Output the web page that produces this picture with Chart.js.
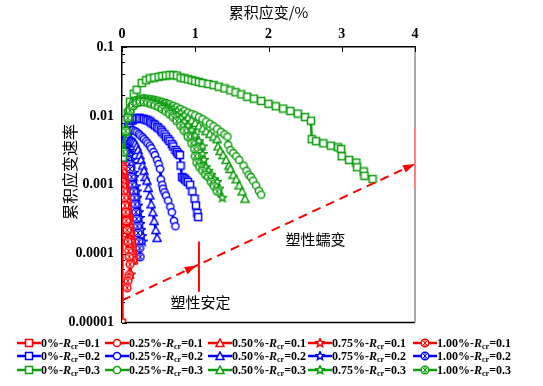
<!DOCTYPE html>
<html>
<head>
<meta charset="utf-8">
<script src="https://cdn.jsdelivr.net/npm/chart.js@4/dist/chart.umd.min.js"></script>
<style>
  body { margin: 0; background: #fff; }
  #wrap { position: relative; width: 543px; height: 339px; }
  #legend { position: absolute; left: 0; top: 0; width: 543px; height: 386px; pointer-events: none;
            font-family: "Liberation Serif", serif; font-weight: bold; font-size: 12px; color: #000; }
  .item { position: absolute; display: flex; align-items: center; white-space: nowrap; height: 13px; }
  .item canvas { display: block; }
  .item sub { font-size: 8px; vertical-align: -2px; }
</style>
</head>
<body>
<div id="wrap"><canvas id="rateChart"></canvas></div>
<div id="legend"></div>
<script>
// 累积应变 (%) / 累积应变速率 —— 读图所得
const strainTicks = [0, 1, 2, 3, 4];
const rateLabels = ['0.00001', '0.0001', '0.001', '0.01', '0.1'];
const preStrain = ['0%', '0.25%', '0.50%', '0.75%', '1.00%'];
const ratios = ['0.1', '0.2', '0.3'];

// R = 0.3 (绿)
const g0x = [0.01,0.04,0.08,0.11,0.16,0.2,0.27,0.33,0.38,0.44,0.5,0.55,0.6,0.65,0.7,0.75,0.8,0.85,0.9,0.95,1.0,1.05,1.1,1.18,1.25,1.32,1.4,1.48,1.55,1.63,1.71,1.8,1.9,2.0,2.1,2.2,2.3,2.4,2.5,2.58,2.59,2.65,2.75,2.85,2.95,2.99,3.0,3.1,3.2,3.21,3.3,3.31,3.42];
const g0y = [0.0025,0.006,0.011,0.016,0.021,0.024,0.030,0.033,0.035,0.036,0.037,0.038,0.0385,0.039,0.039,0.0385,0.036,0.035,0.034,0.033,0.032,0.031,0.030,0.029,0.028,0.0265,0.025,0.0235,0.022,0.0205,0.019,0.0178,0.0165,0.015,0.0138,0.0128,0.0118,0.0108,0.0096,0.0085,0.0046,0.0043,0.0040,0.0037,0.0035,0.0033,0.0026,0.0023,0.0021,0.0018,0.00156,0.00135,0.00121];
const g1x = [0.02,0.05,0.08,0.11,0.15,0.2,0.25,0.3,0.35,0.4,0.45,0.5,0.55,0.6,0.65,0.7,0.75,0.8,0.85,0.9,0.95,1.0,1.05,1.1,1.15,1.2,1.25,1.3,1.35,1.4,1.44,1.45,1.48,1.52,1.56,1.6,1.66,1.7,1.73,1.76,1.79,1.83,1.87,1.9];
const g1y = [0.003,0.006,0.010,0.013,0.0155,0.017,0.0178,0.018,0.0178,0.0175,0.0171,0.0166,0.016,0.0154,0.0147,0.014,0.0133,0.0126,0.0119,0.0112,0.0107,0.0102,0.0096,0.009,0.0083,0.0077,0.0071,0.0065,0.0059,0.0054,0.0050,0.0038,0.0032,0.0029,0.0026,0.0023,0.0019,0.0016,0.0014,0.0013,0.00115,0.00098,0.00082,0.00072];
const g2x = [0.02,0.05,0.08,0.11,0.15,0.2,0.25,0.3,0.35,0.4,0.45,0.5,0.55,0.6,0.65,0.7,0.75,0.8,0.85,0.9,0.95,1.0,1.05,1.1,1.15,1.2,1.25,1.3,1.31,1.34,1.38,1.42,1.46,1.48,1.52,1.56,1.6,1.64,1.68];
const g2y = [0.003,0.006,0.0098,0.0127,0.015,0.0165,0.0172,0.0173,0.0171,0.0167,0.0162,0.0156,0.0149,0.0142,0.0134,0.0126,0.0118,0.011,0.0102,0.0094,0.0086,0.0079,0.0072,0.0066,0.006,0.0055,0.005,0.0046,0.0036,0.0031,0.0027,0.0023,0.0019,0.0017,0.0014,0.0012,0.00098,0.0008,0.00063];
const g3x = [0.02,0.05,0.08,0.11,0.15,0.2,0.25,0.3,0.35,0.4,0.45,0.5,0.55,0.6,0.65,0.7,0.75,0.8,0.85,0.9,0.95,1.0,1.05,1.1,1.1,1.12,1.14,1.18,1.22,1.26,1.3,1.33,1.37];
const g3y = [0.003,0.006,0.0096,0.0124,0.0145,0.016,0.0166,0.0167,0.0164,0.0159,0.0153,0.0146,0.0138,0.0129,0.012,0.011,0.0101,0.0092,0.0082,0.0072,0.0062,0.0052,0.0043,0.0036,0.0028,0.0023,0.0018,0.0016,0.0014,0.0012,0.0011,0.00088,0.00065];
const g4x = [0.02,0.05,0.08,0.11,0.15,0.2,0.25,0.3,0.35,0.4,0.45,0.5,0.55,0.6,0.65,0.7,0.75,0.8,0.85,0.9,0.95,0.99,1.0,1.02,1.06,1.1,1.14,1.18,1.22,1.26,1.3];
const g4y = [0.003,0.006,0.0094,0.012,0.014,0.0154,0.016,0.016,0.0156,0.015,0.0143,0.0135,0.0126,0.0116,0.0106,0.0095,0.0084,0.0072,0.0061,0.005,0.004,0.0033,0.0026,0.0021,0.0018,0.0016,0.0014,0.0013,0.0011,0.00095,0.0008];

// R = 0.2 (蓝)
const b0x = [0.01,0.03,0.05,0.08,0.1,0.13,0.15,0.18,0.2,0.23,0.25,0.28,0.3,0.33,0.35,0.38,0.4,0.43,0.45,0.48,0.5,0.53,0.55,0.58,0.6,0.63,0.65,0.68,0.7,0.73,0.75,0.77,0.79,0.8,0.82,0.84,0.86,0.88,0.9,0.93,0.96,0.99,1.01,1.03,1.04];
const b0y = [0.0025,0.004,0.0055,0.0068,0.0078,0.0085,0.0088,0.0091,0.0092,0.0093,0.0092,0.0091,0.009,0.0088,0.0086,0.0083,0.008,0.0076,0.0073,0.0069,0.0066,0.0062,0.0058,0.0054,0.005,0.0046,0.0043,0.0039,0.0036,0.0032,0.003,0.0028,0.0027,0.0019,0.0013,0.00125,0.0012,0.00115,0.0011,0.001,0.0008,0.00063,0.0005,0.00039,0.00034];
const b1x = [0.01,0.03,0.05,0.06,0.08,0.1,0.13,0.15,0.18,0.2,0.23,0.25,0.28,0.3,0.33,0.35,0.38,0.4,0.43,0.45,0.48,0.5,0.52,0.53,0.55,0.56,0.58,0.6,0.63,0.66,0.68,0.71,0.73];
const b1y = [0.002,0.0033,0.0043,0.0048,0.0055,0.006,0.0062,0.0062,0.006,0.0058,0.0055,0.0052,0.0049,0.0046,0.0043,0.004,0.0037,0.0034,0.003,0.0027,0.0023,0.002,0.0017,0.0012,0.001,0.00088,0.00078,0.0007,0.00059,0.00048,0.0004,0.0003,0.00025];
const b2x = [0.01,0.02,0.03,0.05,0.06,0.08,0.1,0.12,0.14,0.16,0.18,0.2,0.22,0.24,0.26,0.28,0.3,0.32,0.34,0.36,0.38,0.4,0.42,0.44,0.46,0.48];
const b2y = [0.0018,0.0023,0.0028,0.0035,0.0038,0.0041,0.0043,0.0044,0.0043,0.0042,0.004,0.0036,0.0032,0.0027,0.0023,0.0019,0.0016,0.0013,0.00115,0.0009,0.0007,0.00052,0.0004,0.0003,0.00022,0.00017];
const b3x = [0.01,0.02,0.03,0.05,0.07,0.08,0.1,0.11,0.13,0.14,0.16,0.17,0.19,0.2,0.21,0.22,0.23,0.24,0.25,0.26,0.27,0.28];
const b3y = [0.0016,0.002,0.0025,0.003,0.0031,0.0031,0.0029,0.0027,0.0023,0.002,0.0015,0.0013,0.00095,0.0008,0.00065,0.0005,0.0004,0.00033,0.00027,0.00022,0.00018,0.00015];
const b4x = [0.01,0.02,0.03,0.04,0.05,0.07,0.08,0.1,0.11,0.13,0.14,0.16,0.17,0.18,0.19,0.2,0.21,0.22,0.23,0.24,0.25];
const b4y = [0.0014,0.0018,0.0021,0.0023,0.0025,0.0025,0.0023,0.002,0.0017,0.0013,0.001,0.0008,0.00065,0.00052,0.0004,0.00032,0.00025,0.0002,0.00015,0.00012,0.00009];

// R = 0.1 (红)
const r0x = [0,0.003,0.008,0.015,0.022,0.03,0.04,0.05,0.06,0.07,0.08,0.09,0.1,0.11,0.12,0.13,0.14,0.15,0.16];
const r0y = [0.00001,0.0019,0.0018,0.0017,0.0014,0.0012,0.001,0.0008,0.00065,0.0005,0.0004,0.00033,0.00027,0.00022,0.00018,0.00015,0.00012,0.0001,0.00008];
const r1x = [0.005,0.012,0.02,0.03,0.04,0.05,0.06,0.07,0.08,0.09,0.1,0.11,0.12,0.13,0.14,0.15];
const r1y = [0.0016,0.0015,0.0013,0.0011,0.0009,0.00074,0.0006,0.00049,0.0004,0.00032,0.00025,0.0002,0.00016,0.00013,0.0001,0.00008];
const r2x = [0.005,0.012,0.02,0.03,0.04,0.05,0.06,0.07,0.08,0.09,0.1,0.11,0.12,0.13];
const r2y = [0.0014,0.0013,0.0011,0.0009,0.0007,0.00056,0.00045,0.00037,0.0003,0.00023,0.00018,0.00014,0.00011,0.00008];
const r3x = [0.005,0.012,0.02,0.03,0.04,0.05,0.06,0.07,0.08,0.09,0.1,0.11,0.12];
const r3y = [0.0012,0.0011,0.0009,0.00075,0.0006,0.00048,0.00038,0.0003,0.00023,0.00017,0.00013,0.00008,0.00005];
const r4x = [0.005,0.012,0.02,0.03,0.04,0.05,0.06,0.07,0.08,0.09,0.1,0.11,0.1,0.09,0.08,0.07];
const r4y = [0.0011,0.00095,0.0008,0.00065,0.0005,0.0004,0.0003,0.00022,0.00015,0.00011,0.00009,0.00007,0.00005,0.000045,0.00004,0.000032];

// 辅助线
const trendX = [0, 3.95];
const trendY = [0.000021, 0.0019];
const arrowAt = [0.97, 3.95];
const limitX = [1.05, 1.05];
const limitY = [0.00015, 0.000028];
const edgeX = [4, 4];
const edgeY = [0.0066, 0.00087];
const notes = [
  { text: '塑性安定', x: 1.07, y: 0.00002 },
  { text: '塑性蠕变', x: 2.64, y: 0.00016 }
];

const colors = ['#ff0000', '#0000ff', '#0c9e0c'];
const shapes = ['square', 'circle', 'triangle', 'star', 'crossed'];

function marker(shape, color) {
  const s = 10, m = 5;
  const c = document.createElement('canvas');
  c.width = s; c.height = s;
  const g = c.getContext('2d');
  g.fillStyle = '#fff';
  g.strokeStyle = color;
  g.lineWidth = 1.5;
  g.beginPath();
  if (shape === 'square') g.rect(1.5, 1.5, 7, 7);
  else if (shape === 'circle') g.arc(m, m, 3.6, 0, Math.PI * 2);
  else if (shape === 'triangle') { g.moveTo(m, 1); g.lineTo(9, 8.5); g.lineTo(1, 8.5); g.closePath(); }
  else if (shape === 'star') {
    for (let i = 0; i < 10; i++) {
      const r = i % 2 ? 2 : 4.4;
      const a = -Math.PI / 2 + i * Math.PI / 5;
      g.lineTo(m + r * Math.cos(a), m + r * Math.sin(a));
    }
    g.closePath();
  } else g.arc(m, m, 3.8, 0, Math.PI * 2);
  g.fill();
  g.stroke();
  if (shape === 'crossed') {
    g.lineWidth = 1;
    g.beginPath();
    g.moveTo(m - 2.4, m - 2.4); g.lineTo(m + 2.4, m + 2.4);
    g.moveTo(m + 2.4, m - 2.4); g.lineTo(m - 2.4, m + 2.4);
    g.moveTo(m, m - 3); g.lineTo(m, m + 3);
    g.stroke();
  }
  return c;
}

function pts(xs, ys) {
  return xs.map((x, i) => ({ x: x, y: ys[i] }));
}

function series(xs, ys, row, col) {
  return {
    label: preStrain[col] + '-Rcr=' + ratios[row],
    data: pts(xs, ys),
    showLine: true,
    borderColor: colors[row],
    backgroundColor: colors[row],
    borderWidth: 2.5,
    pointStyle: marker(shapes[col], colors[row]),
    pointRadius: 4
  };
}

const groups = [
  [[r0x, r0y], [r1x, r1y], [r2x, r2y], [r3x, r3y], [r4x, r4y]],
  [[b0x, b0y], [b1x, b1y], [b2x, b2y], [b3x, b3y], [b4x, b4y]],
  [[g0x, g0y], [g1x, g1y], [g2x, g2y], [g3x, g3y], [g4x, g4y]]
];

const datasets = [
  { data: pts(trendX, trendY), showLine: true, borderColor: '#ff0000', borderWidth: 2, borderDash: [9, 6], pointRadius: 0 },
  { data: pts(limitX, limitY), showLine: true, borderColor: '#ff0000', borderWidth: 2, pointRadius: 0 },
  { data: pts(edgeX, edgeY), showLine: true, borderColor: '#ff8080', borderWidth: 2, pointRadius: 0, clip: false }
];
// 绿在最上，其次红，蓝在下
[2, 0, 1].forEach(row => {
  for (let col = 4; col >= 0; col--) {
    datasets.push(series(groups[row][col][0], groups[row][col][1], row, col));
  }
});

const decor = {
  id: 'decor',
  beforeDatasetsDraw(chart) {
    const { ctx, chartArea: a, scales } = chart;
    ctx.save();
    ctx.strokeStyle = '#000';
    ctx.lineWidth = 1.5;
    ctx.beginPath();
    ctx.moveTo(a.left, a.bottom); ctx.lineTo(a.right, a.bottom);
    ctx.stroke();
    ctx.strokeStyle = '#8c8c8c';
    ctx.beginPath();
    ctx.moveTo(a.right, a.top); ctx.lineTo(a.right, a.bottom);
    ctx.stroke();
    // 内向刻度
    ctx.strokeStyle = '#000';
    ctx.lineWidth = 1;
    strainTicks.forEach(v => {
      const px = Math.round(scales.x.getPixelForValue(v)) + 0.5;
      ctx.beginPath(); ctx.moveTo(px, a.top); ctx.lineTo(px, a.top + 5); ctx.stroke();
    });
    for (let e = -5; e <= -1; e++) {
      [1, 2, 4, 6, 8].forEach(k => {
        const v = k * Math.pow(10, e);
        if (v > 0.1) return;
        const py = Math.round(scales.y.getPixelForValue(v)) + 0.5;
        ctx.beginPath(); ctx.moveTo(a.left, py); ctx.lineTo(a.left + (k === 1 ? 5 : 3), py); ctx.stroke();
      });
    }
    ctx.restore();
  },
  afterDraw(chart) {
    const { ctx, scales } = chart;
    ctx.save();
    // 箭头
    const x0 = scales.x.getPixelForValue(trendX[0]), y0 = scales.y.getPixelForValue(trendY[0]);
    const x1 = scales.x.getPixelForValue(trendX[1]), y1 = scales.y.getPixelForValue(trendY[1]);
    const ang = Math.atan2(y1 - y0, x1 - x0);
    const ly0 = Math.log10(trendY[0]), ly1 = Math.log10(trendY[1]);
    ctx.fillStyle = '#ff0000';
    arrowAt.forEach(v => {
      const t = (v - trendX[0]) / (trendX[1] - trendX[0]);
      const px = scales.x.getPixelForValue(v);
      const py = scales.y.getPixelForValue(Math.pow(10, ly0 + t * (ly1 - ly0)));
      ctx.save();
      ctx.translate(px, py);
      ctx.rotate(ang);
      ctx.beginPath();
      ctx.moveTo(4, 0); ctx.lineTo(-8, -4); ctx.lineTo(-8, 4); ctx.closePath();
      ctx.fill();
      ctx.restore();
    });
    // 注释
    ctx.fillStyle = '#000';
    ctx.font = '15px "Noto Sans CJK SC"';
    ctx.textAlign = 'center';
    ctx.textBaseline = 'middle';
    notes.forEach(n => {
      ctx.fillText(n.text, scales.x.getPixelForValue(n.x), scales.y.getPixelForValue(n.y));
    });
    // 纵轴标题
    ctx.translate(70, 172);
    ctx.rotate(-Math.PI / 2);
    ctx.font = '16px "Noto Sans CJK SC"';
    ctx.fillText('累积应变速率', 0, 0);
    ctx.restore();
  }
};

new Chart(document.getElementById('rateChart'), {
  type: 'scatter',
  data: { datasets: datasets },
  options: {
    responsive: true,
    maintainAspectRatio: false,
    animation: false,
    layout: { padding: { left: 0, right: 128, top: 0, bottom: 9 } },
    plugins: { legend: { display: false }, tooltip: { enabled: false } },
    scales: {
      x: {
        type: 'linear',
        position: 'top',
        min: 0,
        max: 4,
        afterFit: s => { s.height = 47; },
        afterBuildTicks: s => { s.ticks = strainTicks.map(v => ({ value: v })); },
        ticks: { color: '#000', padding: 4, font: { family: 'Liberation Serif', size: 14, weight: 'bold' } },
        grid: { display: false, drawTicks: false },
        border: { display: true, color: '#000', width: 1.5 },
        title: {
          display: true,
          text: '累积应变/%',
          color: '#000',
          padding: { top: 3, bottom: 0 },
          font: { family: 'Noto Sans CJK SC', size: 15 }
        }
      },
      y: {
        type: 'logarithmic',
        min: 0.00001,
        max: 0.1,
        afterFit: s => { s.width = 122; },
        ticks: {
          color: '#000',
          padding: 8,
          autoSkip: false,
          font: { family: 'Liberation Serif', size: 14, weight: 'bold' },
          callback: v => {
            const e = Math.log10(v);
            if (Math.abs(e - Math.round(e)) > 1e-6) return '';
            return rateLabels[Math.round(e) + 5];
          }
        },
        grid: { display: false, drawTicks: false },
        border: { display: true, color: '#000', width: 1.5 }
      }
    }
  },
  plugins: [decor]
});

// 图例 (3 行 x 5 列)
const legendCols = [17, 105, 208, 308, 413];
const legendRows = [343, 356, 370];
const legend = document.getElementById('legend');
ratios.forEach((r, row) => {
  preStrain.forEach((p, col) => {
    const item = document.createElement('div');
    item.className = 'item';
    item.style.left = legendCols[col] + 'px';
    item.style.top = (legendRows[row] - 6.5) + 'px';
    const c = document.createElement('canvas');
    c.width = 24; c.height = 12;
    const g = c.getContext('2d');
    g.strokeStyle = colors[row];
    g.lineWidth = 2.5;
    g.beginPath(); g.moveTo(0, 6); g.lineTo(24, 6); g.stroke();
    g.drawImage(marker(shapes[col], colors[row]), 7, 1);
    item.appendChild(c);
    const t = document.createElement('span');
    t.innerHTML = p + '-<i>R</i><sub>cr</sub>=' + r;
    item.appendChild(t);
    legend.appendChild(item);
  });
});
</script>
</body>
</html>
